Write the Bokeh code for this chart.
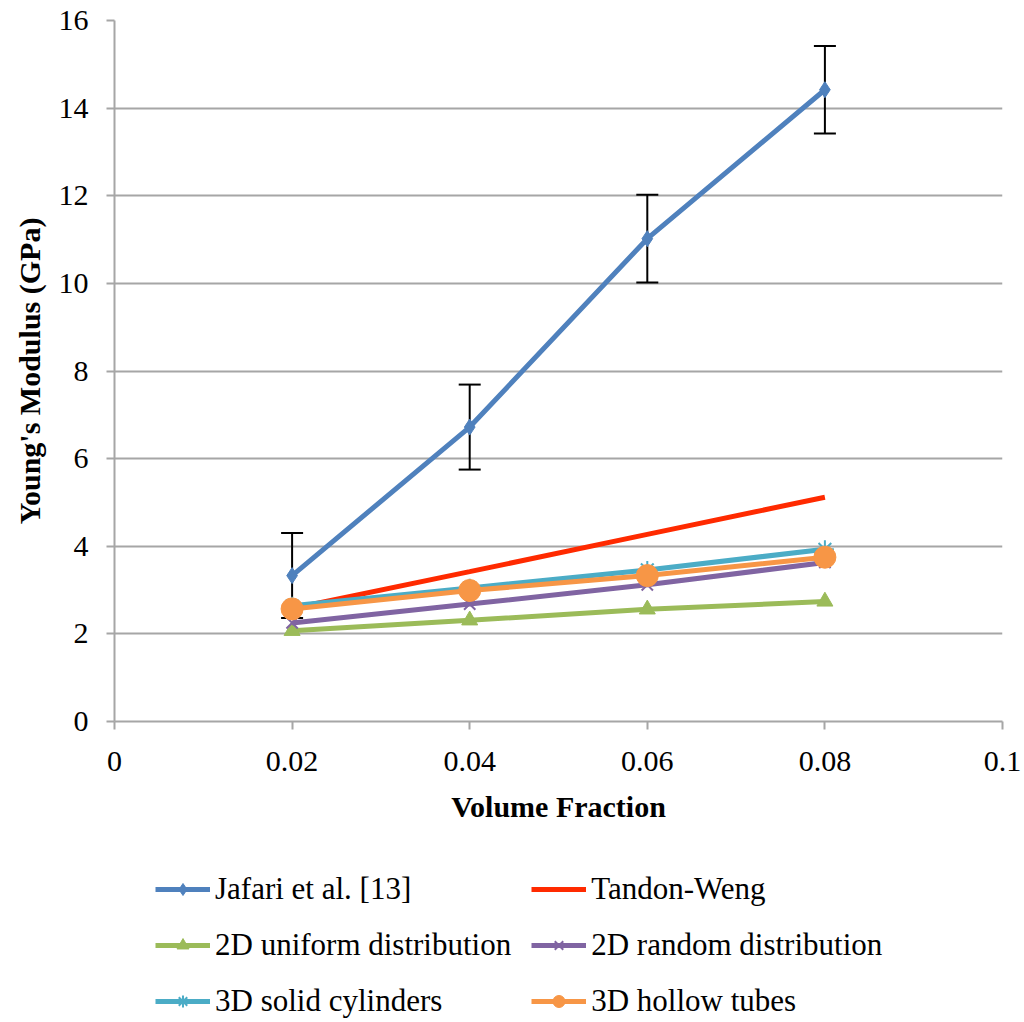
from bokeh.plotting import figure
from bokeh.models import (ColumnDataSource, Whisker, Legend, LegendItem, FixedTicker, Range1d)
from bokeh.layouts import column
from bokeh.embed import file_html
from bokeh.resources import INLINE

# ---- data ----
vf = [0.02, 0.04, 0.06, 0.08]
jafari = [3.33, 6.72, 11.02, 14.42]
jafari_err = [0.97, 0.97, 1.0, 1.0]
tandon = [2.58, 3.42, 4.27, 5.12]
uniform2d = [2.07, 2.31, 2.56, 2.74]
random2d = [2.25, 2.68, 3.12, 3.63]
solid3d = [2.64, 3.05, 3.46, 3.93]
hollow3d = [2.57, 2.99, 3.33, 3.75]

x_ticks = [0, 0.02, 0.04, 0.06, 0.08, 0.1]
x_tick_labels = ["0", "0.02", "0.04", "0.06", "0.08", "0.1"]
y_ticks = [0, 2, 4, 6, 8, 10, 12, 14, 16]

FONT = "Liberation Serif"

p = figure(width=1024, height=830, output_backend="svg", toolbar_location=None,
           x_range=Range1d(0, 0.1), y_range=Range1d(0, 16))
p.min_border_left = 114
p.min_border_right = 22
p.min_border_top = 20
p.min_border_bottom = 109
p.outline_line_color = None
p.background_fill_color = "white"

# grid
p.xgrid.grid_line_color = None
p.ygrid.grid_line_color = "#A6A6A6"
p.ygrid.grid_line_width = 2

for ax in (p.xaxis[0], p.yaxis[0]):
    ax.axis_line_color = "#A6A6A6"
    ax.axis_line_width = 2
    ax.major_tick_line_color = "#A6A6A6"
    ax.major_tick_line_width = 2
    ax.major_tick_out = 8
    ax.major_tick_in = 0
    ax.minor_tick_line_color = None
    ax.major_label_text_font = FONT
    ax.major_label_text_font_size = "30px"
    ax.major_label_text_color = "black"
    ax.axis_label_text_font = FONT
    ax.axis_label_text_font_style = "bold"
    ax.axis_label_text_font_size = "30px"
    ax.axis_label_text_color = "black"

p.xaxis.ticker = FixedTicker(ticks=x_ticks)
p.xaxis.major_label_overrides = {t: l for t, l in zip(x_ticks, x_tick_labels)}
p.yaxis.ticker = FixedTicker(ticks=y_ticks)
p.xaxis.axis_label = "Volume Fraction"
p.yaxis.axis_label = "Young's Modulus (GPa)"
p.xaxis.major_label_standoff = 22
p.yaxis.major_label_standoff = 18
p.xaxis.axis_label_standoff = 16
p.yaxis.axis_label_standoff = 10

# series styles
lw = 5
C_J, C_T, C_U, C_R, C_S, C_H = "#4F81BD", "#FF2A00", "#9BBB59", "#8064A2", "#4BACC6", "#F79646"

def draw(fig, y, color, marker=None, size=0, fill=True, mlw=1):
    rs = [fig.line(vf, y, line_color=color, line_width=lw)]
    if marker:
        rs.append(fig.scatter(vf, y, marker=marker, size=size,
                              fill_color=color if fill else None,
                              line_color=color, line_width=mlw))
    return rs

draw(p, jafari, C_J, "diamond", 16)
lower = [a - e for a, e in zip(jafari, jafari_err)]
upper = [a + e for a, e in zip(jafari, jafari_err)]
src = ColumnDataSource(dict(x=vf, lower=lower, upper=upper))
wh = Whisker(source=src, base="x", lower="lower", upper="upper",
             line_color="black", line_width=2)
for h in (wh.upper_head, wh.lower_head):
    h.size = 22
    h.line_width = 2
p.add_layout(wh)

draw(p, tandon, C_T)
draw(p, uniform2d, C_U, "triangle", 16)
draw(p, random2d, C_R, "x", 16, False, 2)
draw(p, solid3d, C_S, "asterisk", 18, False, 2)
draw(p, hollow3d, C_H, "circle", 22)

# ---- legend panel (separate figure below the chart; its series lie outside its view) ----
q = figure(width=1024, height=192, output_backend="svg", toolbar_location=None,
           x_range=Range1d(0, 0.1), y_range=Range1d(-20, -19),
           x_axis_location=None, y_axis_location=None)
q.min_border_left = 0
q.min_border_right = 0
q.min_border_top = 0
q.min_border_bottom = 0
q.outline_line_color = None
q.grid.visible = False

items = [
    LegendItem(label="Jafari et al. [13]", renderers=draw(q, jafari, C_J, "diamond", 16)),
    LegendItem(label="2D uniform distribution", renderers=draw(q, uniform2d, C_U, "triangle", 16)),
    LegendItem(label="3D solid cylinders", renderers=draw(q, solid3d, C_S, "asterisk", 18, False, 2)),
    LegendItem(label="Tandon-Weng", renderers=draw(q, tandon, C_T)),
    LegendItem(label="2D random distribution", renderers=draw(q, random2d, C_R, "x", 16, False, 2)),
    LegendItem(label="3D hollow tubes", renderers=draw(q, hollow3d, C_H, "circle", 20)),
]
legend = Legend(items=items, ncols=2, orientation="vertical")
legend.border_line_color = None
legend.background_fill_alpha = 0
legend.label_text_font = FONT
legend.label_text_font_size = "31px"
legend.label_text_color = "black"
legend.glyph_width = 55
legend.glyph_height = 30
legend.label_standoff = 5
legend.spacing = 20
legend.padding = 0
legend.margin = 0
legend.label_width = 272
legend.location = (41, 3)
q.add_layout(legend, "center")

open("out.html", "w").write(file_html(column(p, q, spacing=0), INLINE))
